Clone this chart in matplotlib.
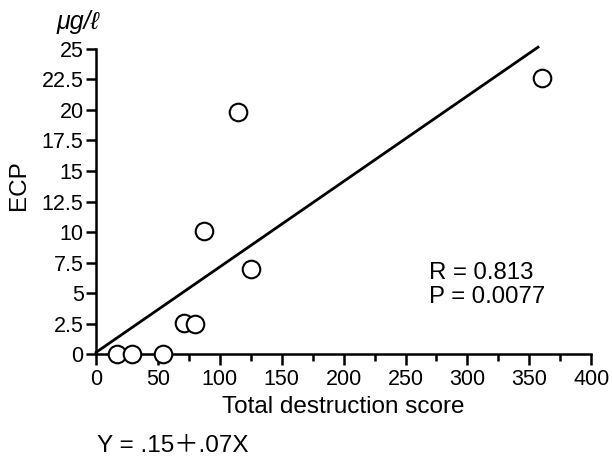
import matplotlib
matplotlib.use("Agg")
import matplotlib.pyplot as plt
import numpy as np
from matplotlib.ticker import MultipleLocator

plt.rcParams["font.family"] = ["Liberation Sans", "DejaVu Sans", "Noto Sans CJK JP"]

# data
score = [17, 29, 54, 71, 80, 87, 115, 125, 360]
ecp = [0.0, 0.0, 0.0, 2.55, 2.5, 10.1, 19.8, 6.95, 22.6]
intercept, slope = 0.15, 0.07
line_x = [0, 357]
y_ticks = [0, 2.5, 5, 7.5, 10, 12.5, 15, 17.5, 20, 22.5, 25]
y_tick_labels = ["0", "2.5", "5", "7.5", "10", "12.5", "15", "17.5", "20", "22.5", "25"]

fig = plt.figure(figsize=(6.12, 4.66), dpi=100)
ax = fig.add_axes([0.157, 0.240, 0.809, 0.655])

lx = np.array(line_x)
ax.plot(lx, intercept + slope * lx, color="black", lw=2.0, clip_on=False)
ax.scatter(score, ecp, s=160, facecolors="white", edgecolors="black",
           linewidths=1.5, zorder=3, clip_on=False)

ax.set_xlim(0, 400)
ax.set_ylim(0, 25)
ax.xaxis.set_major_locator(MultipleLocator(50))
ax.xaxis.set_minor_locator(MultipleLocator(25))
ax.set_yticks(y_ticks)
ax.set_yticklabels(y_tick_labels)
for side in ("top", "right"):
    ax.spines[side].set_visible(False)
for side in ("left", "bottom"):
    ax.spines[side].set_linewidth(1.8)
ax.tick_params(axis="both", which="major", width=1.8, labelsize=15.5, direction="out")
ax.tick_params(axis="x", which="major", length=8, pad=3)
ax.tick_params(axis="x", which="minor", length=5, width=1.8)
ax.tick_params(axis="y", which="major", length=7, pad=2)

ax.set_xlabel("Total destruction score", fontsize=17.5, labelpad=4)
ax.set_ylabel("ECP", fontsize=17.5)
ax.yaxis.set_label_coords(-0.133, 0.555)

fig.text(0.093, 0.952, "μg/ℓ", fontsize=18, ha="left", va="center", style="italic")
ax.text(0.672, 0.226, "R = 0.813\nP = 0.0077", transform=ax.transAxes,
        fontsize=17.3, ha="left", va="center", linespacing=1.15)
fig.text(0.158, 0.042, "Y = .15＋.07X", fontsize=17.5, ha="left", va="center")

fig.savefig("out.png", dpi=100)
